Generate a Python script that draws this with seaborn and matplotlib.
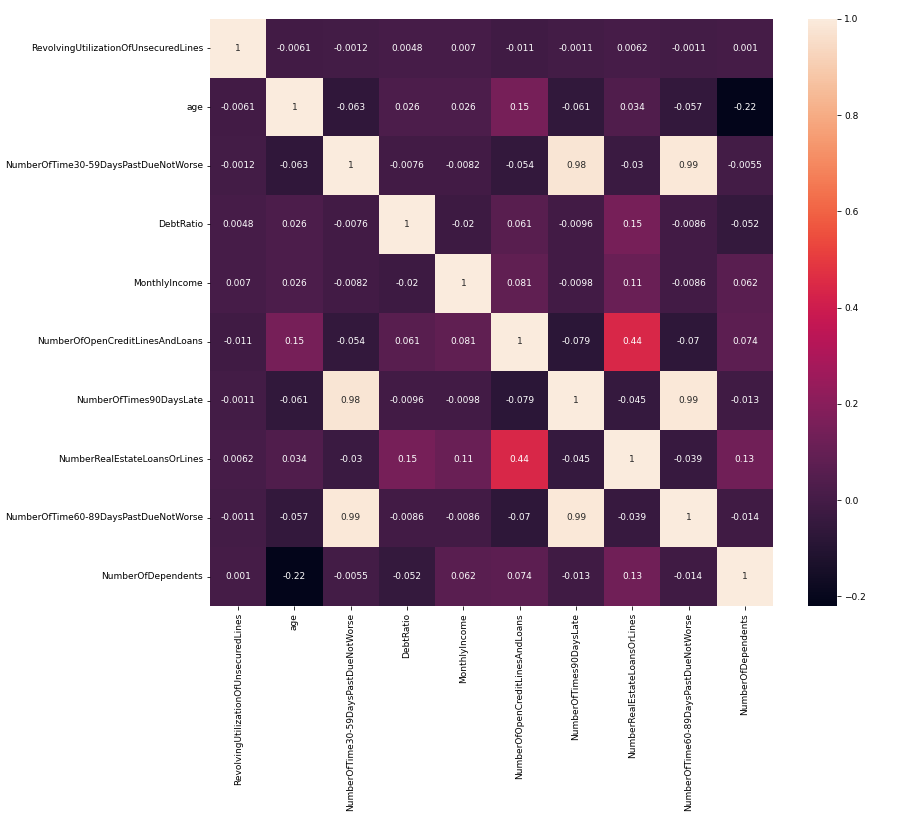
import numpy as np
import pandas as pd
import matplotlib
matplotlib.use("Agg")
import matplotlib.pyplot as plt
import seaborn as sns

columnas = [
    "RevolvingUtilizationOfUnsecuredLines",
    "age",
    "NumberOfTime30-59DaysPastDueNotWorse",
    "DebtRatio",
    "MonthlyIncome",
    "NumberOfOpenCreditLinesAndLoans",
    "NumberOfTimes90DaysLate",
    "NumberRealEstateLoansOrLines",
    "NumberOfTime60-89DaysPastDueNotWorse",
    "NumberOfDependents",
]

fila_revolving = [1, -0.0061, -0.0012, 0.0048, 0.007, -0.011, -0.0011, 0.0062, -0.0011, 0.001]
fila_age = [-0.0061, 1, -0.063, 0.026, 0.026, 0.15, -0.061, 0.034, -0.057, -0.22]
fila_30_59 = [-0.0012, -0.063, 1, -0.0076, -0.0082, -0.054, 0.98, -0.03, 0.99, -0.0055]
fila_debt = [0.0048, 0.026, -0.0076, 1, -0.02, 0.061, -0.0096, 0.15, -0.0086, -0.052]
fila_income = [0.007, 0.026, -0.0082, -0.02, 1, 0.081, -0.0098, 0.11, -0.0086, 0.062]
fila_open = [-0.011, 0.15, -0.054, 0.061, 0.081, 1, -0.079, 0.44, -0.07, 0.074]
fila_90 = [-0.0011, -0.061, 0.98, -0.0096, -0.0098, -0.079, 1, -0.045, 0.99, -0.013]
fila_real = [0.0062, 0.034, -0.03, 0.15, 0.11, 0.44, -0.045, 1, -0.039, 0.13]
fila_60_89 = [-0.0011, -0.057, 0.99, -0.0086, -0.0086, -0.07, 0.99, -0.039, 1, -0.014]
fila_dependents = [0.001, -0.22, -0.0055, -0.052, 0.062, 0.074, -0.013, 0.13, -0.014, 1]

corr = pd.DataFrame(
    [fila_revolving, fila_age, fila_30_59, fila_debt, fila_income,
     fila_open, fila_90, fila_real, fila_60_89, fila_dependents],
    index=columnas, columns=columnas,
)

plt.rcParams["font.size"] = 9

W, H = 906, 827
fig = plt.figure(figsize=(W / 72, H / 72), dpi=72)
ax = fig.add_axes([210 / W, 1 - 606 / H, 563 / W, 587 / H])
cax = fig.add_axes([808 / W, 1 - 606 / H, 29 / W, 587 / H])

sns.heatmap(corr, annot=True, annot_kws={"size": 9}, ax=ax, cbar_ax=cax)

fig.savefig("out.png", dpi=72)
